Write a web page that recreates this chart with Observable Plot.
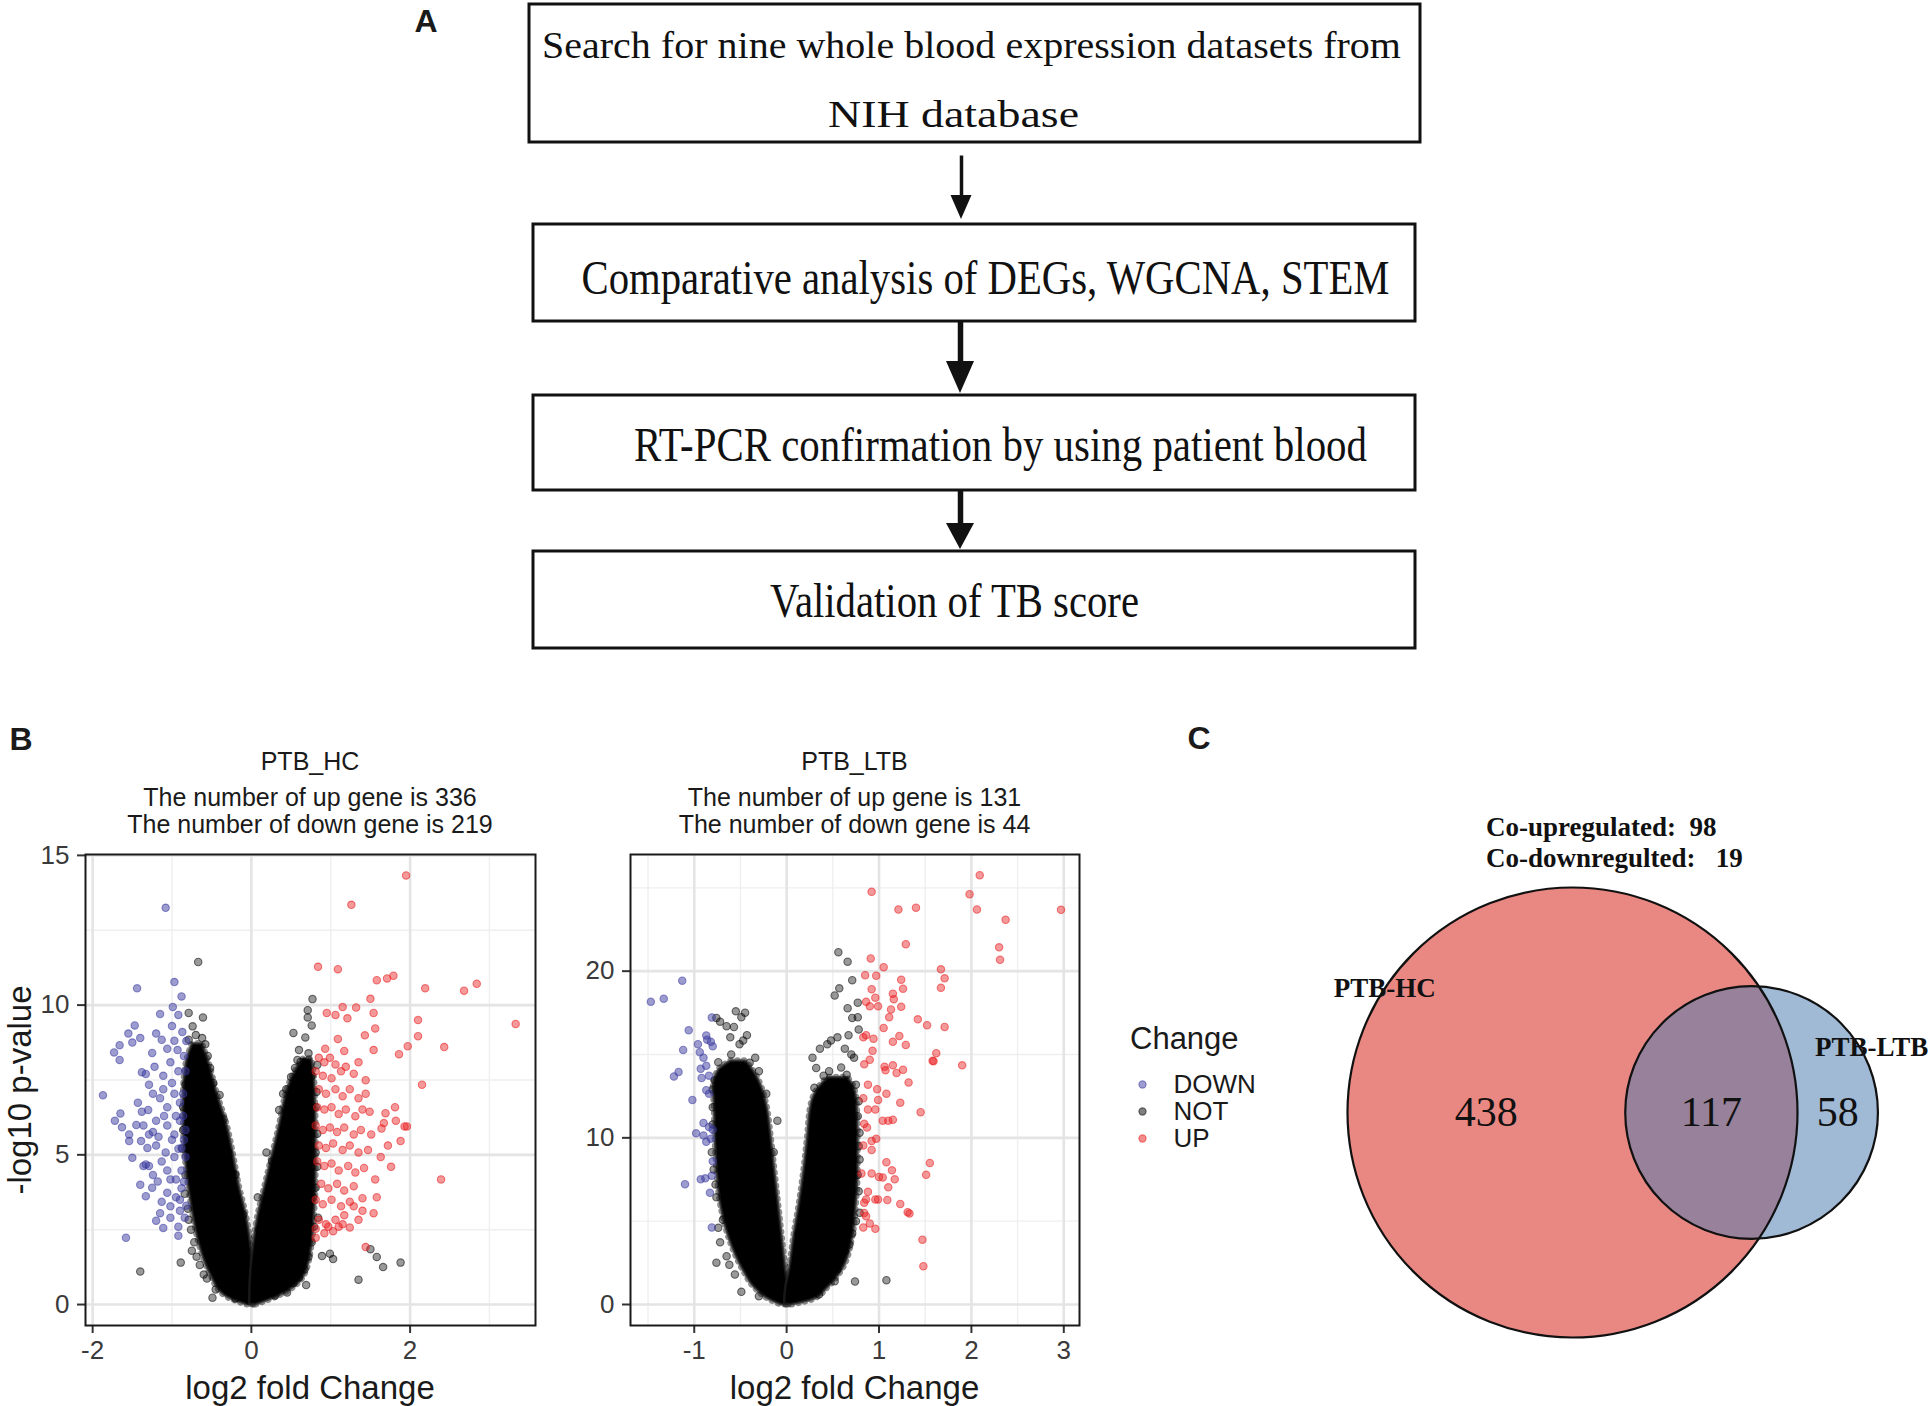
<!DOCTYPE html>
<html><head><meta charset="utf-8">
<script src="https://cdn.jsdelivr.net/npm/d3@7"></script>
<script src="https://cdn.jsdelivr.net/npm/@observablehq/plot@0.6"></script>
<style>
body{margin:0;background:#fff;}
#root{position:relative;width:1931px;height:1406px;overflow:hidden;background:#fff;font-family:"Liberation Sans",Arial,sans-serif;color:#1a1a1a;}
.abs{position:absolute;white-space:pre;line-height:1;}
#root svg{position:absolute;overflow:visible;}
</style></head><body><div id="root"></div>
<script>
// ---------------- DATA ----------------
// Panel A: flow chart steps
const flowSteps = [
  ["Search for nine whole blood expression datasets from", "NIH database"],
  ["Comparative analysis of DEGs, WGCNA, STEM"],
  ["RT-PCR confirmation by using patient blood"],
  ["Validation of TB score"]
];
// Panel B: volcano titles / counts
const volcanoNames = ["PTB_HC", "PTB_LTB"];
const upCounts = [336, 131];
const downCounts = [219, 44];
const changeCats = ["DOWN", "NOT", "UP"];
// PTB_HC: [log2FC, -log10 p]
const hcDown = [[-1.08,13.25],[-1.44,10.56],[-0.97,10.77],[-0.99,9.94],[-0.88,10.29],[-0.92,9.67],[-1.47,9.32],[-1.55,9.05],[-1.50,8.75],[-1.66,8.66],[-1.73,8.42],[-1.66,8.17],[-1.20,9.05],[-1.13,8.84],[-1.06,8.54],[-0.97,8.81],[-1.38,7.76],[-1.33,7.70],[-1.22,7.94],[-1.11,7.64],[-1.02,8.09],[-1.87,6.99],[-1.65,6.38],[-1.72,6.14],[-1.63,5.92],[-1.54,5.68],[-1.54,5.46],[-1.43,6.74],[-1.38,6.44],[-1.36,5.98],[-1.39,5.46],[-1.31,5.23],[-1.33,4.68],[-1.29,4.63],[-1.33,3.62],[-1.58,2.23],[-1.18,4.11],[-1.13,3.43],[-1.11,2.56],[-1.15,3.05],[-1.02,2.90],[-0.92,2.60],[-0.92,2.30],[-1.24,7.04],[-1.15,6.89],[-1.06,6.59],[-0.97,7.04],[-0.90,6.74],[-1.20,6.14],[-1.06,5.98],[-0.97,5.68],[-0.90,6.14],[-1.20,5.31],[-1.08,5.08],[-0.97,4.93],[-0.88,5.23],[-1.24,4.33],[-1.06,4.48],[-0.95,4.18],[-0.88,4.48],[-1.06,3.73],[-0.95,3.58],[-0.88,3.88],[-1.02,3.28],[-0.90,3.13],[-0.83,5.83],[-0.83,4.93],[-0.86,7.04],[-0.83,7.79],[-0.92,7.79],[-1.11,7.19],[-1.29,7.34],[-1.24,5.76],[-1.13,4.78],[-1.02,4.18],[-1.29,5.68],[-1.36,4.63],[-0.85,8.30],[-0.93,8.50],[-1.00,7.40],[-0.86,6.30],[-0.95,6.30],[-1.10,6.30],[-0.85,5.50],[-0.92,5.20],[-1.00,5.50],[-0.85,4.10],[-0.90,3.50],[-0.82,3.30],[-0.84,2.90],[-1.17,5.60],[-1.30,6.50],[-1.45,6.00],[-1.25,3.90],[-1.40,4.00],[-1.20,2.80],[-1.50,4.90],[-1.00,9.30],[-1.25,8.40],[-1.40,8.90],[-1.15,9.70],[-0.87,9.10],[-0.82,8.80]];
const hcUp = [[1.95,14.33],[1.26,13.35],[0.84,11.28],[1.09,11.20],[1.58,10.83],[1.71,10.89],[1.79,10.98],[2.19,10.56],[2.68,10.48],[2.84,10.71],[3.33,9.37],[1.50,10.21],[1.32,9.92],[1.15,9.94],[0.95,9.74],[1.06,9.67],[1.54,9.74],[1.21,9.56],[2.10,9.50],[1.56,9.22],[1.43,8.99],[2.10,8.96],[1.09,8.87],[1.97,8.63],[2.43,8.60],[1.86,8.36],[1.54,8.50],[0.93,8.54],[1.17,8.47],[2.15,7.34],[1.44,7.49],[1.69,6.39],[1.82,6.14],[1.93,5.95],[1.96,5.95],[1.64,5.88],[1.88,5.46],[1.51,5.68],[2.39,4.18],[1.76,4.60],[1.56,4.18],[1.40,3.55],[1.40,3.13],[1.24,2.57],[1.10,2.60],[0.97,2.60],[1.44,1.92],[0.81,2.23],[0.85,8.24],[0.92,8.09],[0.99,8.24],[1.06,8.02],[0.81,7.79],[0.90,7.64],[1.01,7.56],[1.13,7.79],[1.19,7.94],[1.29,7.71],[1.35,8.09],[0.85,7.19],[0.94,7.04],[1.06,7.19],[1.15,6.96],[1.24,7.19],[1.35,6.89],[1.44,7.04],[0.83,6.59],[0.92,6.51],[1.01,6.59],[1.10,6.36],[1.19,6.51],[1.31,6.29],[1.40,6.51],[1.49,6.44],[0.81,5.98],[0.90,5.83],[0.99,5.91],[1.08,5.76],[1.17,5.91],[1.29,5.68],[1.38,5.83],[0.85,5.31],[0.94,5.23],[1.03,5.38],[1.15,5.16],[1.24,5.31],[1.35,5.08],[1.47,5.16],[0.83,4.78],[0.92,4.63],[1.01,4.71],[1.10,4.48],[1.22,4.63],[1.31,4.41],[1.42,4.56],[0.88,4.03],[0.97,3.88],[1.08,4.03],[1.17,3.81],[1.29,3.95],[0.81,3.50],[0.90,3.35],[1.01,3.50],[1.13,3.28],[1.24,3.43],[0.85,2.83],[0.94,2.68],[1.06,2.83],[1.17,2.98],[0.81,2.53],[0.92,2.38],[1.03,2.45],[1.15,2.68],[1.35,2.83],[1.29,3.28],[1.54,3.05],[1.58,3.58],[1.63,4.93],[1.72,5.31],[1.67,6.06],[1.81,6.59]];
const hcNot = [[-0.67,11.44],[0.77,10.20],[0.71,9.83],[0.71,9.59],[0.76,9.32],[-0.79,9.74],[-0.61,9.59],[-0.74,9.29],[0.53,9.07],[0.68,8.92],[0.72,8.39],[0.58,8.17],[-1.40,1.10],[-0.89,1.40],[-0.49,0.23],[1.35,0.83],[1.50,1.85],[1.58,1.59],[1.66,1.25],[1.88,1.40],[0.89,1.62],[0.99,1.70],[1.03,1.52],[0.69,0.65],[0.19,5.08],[0.08,3.58],[-0.24,4.41],[-0.79,8.84],[-0.72,8.39],[-0.65,7.94],[-0.58,8.69],[-0.83,7.34],[-0.86,5.83],[-0.83,4.33],[-0.79,2.83],[-0.72,2.08],[-0.65,1.32],[-0.56,0.87],[-0.29,5.08],[-0.20,4.33],[0.40,7.04],[0.44,7.19],[0.67,8.09],[0.76,7.64],[0.81,6.59],[0.81,5.08],[0.78,3.58],[0.76,2.08],[0.67,1.17],[0.53,0.72],[0.26,4.78],[-0.70,9.00],[-0.62,8.90],[-0.55,8.30],[0.60,8.50],[0.50,7.60],[0.35,6.50],[-0.40,7.00],[-0.35,6.20],[-0.75,1.80],[-0.45,0.50],[0.45,0.40],[0.30,0.30],[-0.20,0.20],[0.84,2.90],[0.83,8.00],[-0.10,3.00],[0.10,2.50],[-0.86,6.60],[-0.87,5.20],[-0.84,3.70],[-0.80,3.20],[-0.76,2.50],[-0.69,1.60],[-0.60,1.00],[-0.52,7.90],[-0.48,7.40],[0.82,7.10],[0.83,5.70],[0.83,4.60],[0.81,3.90],[0.79,2.60],[0.72,1.60],[0.60,0.90],[0.62,8.10],[0.55,7.90]];
// dense core of NOT genes: [y, outer/inner x bounds]
const hcCoreLeft = [[0,-0.06,0.02],[0.3,-0.33,0.02],[1,-0.51,0.01],[2,-0.65,-0.01],[3,-0.73,-0.07],[4,-0.79,-0.16],[5,-0.83,-0.23],[6,-0.85,-0.31],[7,-0.85,-0.43],[8,-0.82,-0.53],[8.7,-0.74,-0.62]];
const hcCoreRight = [[0,-0.02,0.06],[0.3,-0.02,0.35],[1,-0.01,0.67],[2,0.03,0.76],[3,0.09,0.79],[4,0.18,0.81],[5,0.27,0.81],[6,0.36,0.81],[7,0.44,0.80],[7.6,0.52,0.79],[8.2,0.66,0.76]];
// PTB_LTB
const ltbDown = [[-1.13,19.43],[-1.47,18.16],[-1.33,18.35],[-0.81,17.22],[-1.06,16.46],[-0.87,16.14],[-0.86,15.89],[-0.96,15.62],[-0.82,15.76],[-1.12,15.27],[-0.94,15.14],[-0.80,15.49],[-0.90,14.81],[-0.87,14.32],[-0.93,14.14],[-1.17,13.95],[-1.22,13.68],[-0.84,13.73],[-0.92,13.59],[-0.87,12.86],[-0.84,12.65],[-1.02,12.27],[-0.90,10.89],[-0.84,10.65],[-0.80,10.49],[-0.98,10.27],[-0.90,10.14],[-0.82,9.95],[-0.87,9.76],[-0.80,8.59],[-0.93,7.51],[-0.88,7.57],[-0.81,7.73],[-1.10,7.22],[-0.83,6.70],[-0.81,4.62]];
const ltbUp = [[2.09,25.76],[0.92,24.76],[1.98,24.62],[1.21,23.70],[1.40,23.81],[2.06,23.70],[2.97,23.68],[2.37,23.08],[1.29,21.62],[2.30,21.43],[2.31,20.68],[0.91,20.76],[1.05,20.24],[1.67,20.11],[0.85,19.76],[0.97,19.73],[1.24,19.49],[1.71,19.57],[1.67,19.00],[0.92,18.92],[1.26,18.95],[1.15,18.65],[0.96,18.41],[1.16,18.32],[0.86,18.16],[0.90,17.89],[0.99,17.89],[1.24,17.86],[1.13,17.70],[1.11,17.24],[1.42,17.11],[1.52,16.76],[1.71,16.65],[1.05,16.59],[1.22,16.11],[0.86,16.16],[0.83,16.03],[0.94,15.95],[1.15,15.76],[1.29,15.57],[1.62,15.08],[1.58,14.62],[1.59,14.59],[0.93,15.22],[0.90,14.68],[0.84,14.41],[1.06,14.27],[1.15,14.35],[1.90,14.35],[1.26,14.08],[1.07,14.05],[1.19,13.89],[1.32,13.32],[0.88,13.19],[0.98,12.92],[1.08,12.65],[0.83,12.38],[1.23,12.11],[0.99,12.27],[0.88,11.70],[0.96,11.70],[1.45,11.54],[1.10,11.03],[1.04,11.03],[1.15,11.08],[0.84,10.84],[0.87,10.62],[0.97,9.95],[0.92,9.81],[0.83,9.54],[0.92,9.27],[1.08,8.54],[1.55,8.49],[1.14,8.05],[1.51,7.78],[0.81,7.86],[0.92,7.86],[1.00,7.65],[1.04,7.62],[1.17,7.51],[1.10,7.03],[0.88,6.76],[0.86,6.30],[0.96,6.30],[1.09,6.27],[0.99,6.30],[1.23,6.03],[1.31,5.54],[1.33,5.46],[0.84,6.11],[0.84,5.49],[0.86,5.30],[0.90,4.86],[0.83,4.62],[0.96,4.54],[1.47,3.89],[1.48,2.30]];
const ltbNot = [[0.56,21.14],[0.66,20.57],[0.71,19.46],[0.57,18.97],[0.52,18.54],[0.77,18.11],[0.66,17.78],[0.71,17.19],[0.77,17.24],[-0.55,17.59],[-0.45,17.51],[-0.49,17.24],[-0.76,17.19],[-0.65,16.70],[-0.57,16.65],[-0.47,15.84],[-0.76,2.51],[-0.62,2.38],[-0.49,0.76],[0.74,1.38],[1.08,1.46],[0.48,15.84],[0.55,16.03],[0.67,16.16],[0.32,14.19],[0.40,13.73],[0.46,14.00],[0.59,14.22],[0.65,13.78],[-0.72,16.97],[-0.61,16.03],[-0.51,15.62],[-0.43,16.16],[-0.34,14.81],[-0.30,14.00],[-0.74,14.54],[-0.78,13.46],[-0.80,11.84],[-0.81,9.14],[-0.76,6.43],[-0.72,3.73],[-0.69,5.08],[-0.14,9.14],[-0.10,11.03],[-0.22,12.65],[0.28,14.81],[0.36,15.35],[0.44,15.62],[0.63,15.35],[0.73,14.81],[0.75,13.19],[0.77,11.30],[0.77,7.78],[0.71,4.27],[0.63,3.19],[0.55,2.11],[0.13,4.27],[0.21,6.43],[0.78,16.50],[0.70,15.00],[0.60,12.50],[0.50,11.80],[0.78,9.50],[0.79,5.50],[0.30,13.00],[-0.60,15.00],[-0.40,14.50],[0.20,1.00],[-0.30,0.50],[-0.80,12.90],[-0.80,10.80],[-0.79,8.10],[-0.77,7.20],[-0.74,4.60],[-0.65,2.90],[-0.56,1.80],[0.78,12.20],[0.79,10.30],[0.79,8.70],[0.78,6.80],[0.75,5.00],[0.68,3.60],[0.52,1.40],[0.35,0.60]];
const ltbCoreLeft = [[0,-0.06,0.02],[0.3,-0.18,0.02],[1,-0.34,0.01],[2,-0.46,-0.01],[4,-0.62,-0.05],[6,-0.71,-0.09],[8,-0.75,-0.13],[10,-0.77,-0.17],[12,-0.78,-0.22],[13,-0.79,-0.27],[14,-0.74,-0.36],[14.6,-0.60,-0.45]];
const ltbCoreRight = [[0,-0.02,0.06],[0.3,-0.02,0.28],[1,-0.01,0.44],[2,0.03,0.59],[4,0.08,0.71],[6,0.14,0.75],[8,0.19,0.77],[10,0.23,0.77],[12,0.27,0.76],[13,0.35,0.73],[13.6,0.45,0.66]];
// Panel C: Venn counts
const vennSets = ["PTB-HC", "PTB-LTB"];
const vennOnly = [438, 58];
const vennShared = 117;
const coUp = 98, coDown = 19;

// ---------------- LAYOUT / STYLE ----------------
const root = document.getElementById("root");
function label(text, x, y, o = {}) {
  const d = document.createElement("div");
  d.className = "abs";
  d.textContent = text;
  d.style.left = x + "px"; d.style.top = y + "px";
  d.style.fontSize = (o.size || 25) + "px";
  d.style.fontWeight = o.weight || "normal";
  d.style.fontFamily = o.family || '"Liberation Sans", Arial, sans-serif';
  d.style.color = o.color || "#1a1a1a";
  const tx = o.anchor === "start" ? "0" : "-50%";
  d.style.transform = `translate(${tx},-50%)` + (o.rotate ? ` rotate(${o.rotate}deg)` : "");
  root.appendChild(d);
}
function place(svg, left, top) { svg.style.left = left + "px"; svg.style.top = top + "px"; root.appendChild(svg); }

const serif = '"Liberation Serif", "Times New Roman", serif';
const sans = '"Liberation Sans", Arial, sans-serif';

// ---------- Panel A ----------
const flowBoxes = [{x1:529,x2:1420,y1:4,y2:142},{x1:533,x2:1415,y1:224,y2:321},{x1:533,x2:1415,y1:395,y2:490},{x1:533,x2:1415,y1:551,y2:648}];
const flowTextPos = [[{x:971,y:46,size:37,len:859},{x:953,y:115,size:37,len:251}],[{x:985,y:278,size:49,len:808}],[{x:1000,y:445,size:49,len:733}],[{x:954,y:601,size:49,len:369}]];
const flowArrows = [{x:961,y1:155,y2:219,w:3.5,hw:21,hl:24},{x:960,y1:321,y2:393,w:5.5,hw:28,hl:32},{x:960,y1:490,y2:549,w:5.5,hw:28,hl:26}];
const flowTexts = flowSteps.flatMap((lines, i) => lines.map((t, j) => ({text: t, ...flowTextPos[i][j]})));
const heads = flowArrows.flatMap((a, i) => [
  {i, x: a.x - a.hw / 2, y1: a.y2 - a.hl, y2: a.y2 - a.hl},
  {i, x: a.x, y1: a.y2 - a.hl, y2: a.y2},
  {i, x: a.x + a.hw / 2, y1: a.y2 - a.hl, y2: a.y2 - a.hl}
]);
const flow = Plot.plot({
  width: 1931, height: 660, margin: 0,
  x: {domain: [0, 1931], range: [0, 1931], axis: null},
  y: {domain: [0, 660], range: [0, 660], axis: null},
  style: {background: "transparent"},
  marks: [
    Plot.rect(flowBoxes, {x1: "x1", x2: "x2", y1: "y1", y2: "y2", fill: "white", stroke: "#111", strokeWidth: 3}),
    Plot.link(flowArrows, {x1: "x", x2: "x", y1: "y1", y2: d => d.y2 - d.hl + 2, stroke: "#111", strokeWidth: d => d.w}),
    Plot.areaY(heads, {x: "x", y1: "y1", y2: "y2", z: "i", fill: "#111"}),
    Plot.text(flowTexts.filter(d => d.size === 37), {x: "x", y: "y", text: "text", fontSize: 37, fontFamily: serif, fill: "#111"}),
    Plot.text(flowTexts.filter(d => d.size === 49), {x: "x", y: "y", text: "text", fontSize: 49, fontFamily: serif, fill: "#111"})
  ]
});
d3.select(flow).selectAll("text").each(function () {
  const spec = flowTexts.find(f => f.text === this.textContent);
  if (spec) { this.setAttribute("textLength", spec.len); this.setAttribute("lengthAdjust", "spacingAndGlyphs"); }
});
place(flow, 0, 0);
label("A", 426, 21, {size: 32, weight: "bold"});

// ---------- Panel B ----------
const colors = {DOWN: "#3a3aa0", NOT: "#000000", UP: "#e81a1c"};
const fillOp = {DOWN: 0.5, NOT: 0.4, UP: 0.45};
function dots(data, cat) {
  return Plot.dot(data, {x: d => d[0], y: d => d[1], r: 3.7, fill: colors[cat], fillOpacity: fillOp[cat],
    stroke: colors[cat], strokeOpacity: 0.55, strokeWidth: 1.1});
}
const fmt = d => String(d);
function coreMarks(data) {
  const ch = {y: d => d[0], x1: d => d[1], x2: d => d[2], curve: "monotone-y"};
  return [
    Plot.areaX(data, {...ch, fill: "none", stroke: "#000", strokeOpacity: 0.45, strokeWidth: 7, strokeDasharray: "0.1 6.5", strokeLinecap: "round"}),
    Plot.areaX(data, {...ch, fill: "#000", stroke: "#222", strokeWidth: 2.5, strokeOpacity: 0.7})
  ];
}
function volcano(c) {
  const grid = {strokeOpacity: 1};
  return Plot.plot({
    width: 560, height: 530,
    marginLeft: 85, marginRight: c.marginRight, marginTop: 14, marginBottom: 45,
    x: {domain: c.xDomain, axis: null},
    y: {domain: c.yDomain, axis: null},
    style: {background: "transparent", fontFamily: sans, fontSize: "26px", color: "#3a3a3a"},
    marks: [
      Plot.gridX(c.xMinor, {...grid, stroke: "#efefef", strokeWidth: 1.4}),
      Plot.gridY(c.yMinor, {...grid, stroke: "#efefef", strokeWidth: 1.4}),
      Plot.gridX(c.xMajor, {...grid, stroke: "#e4e4e4", strokeWidth: 2.6}),
      Plot.gridY(c.yMajor, {...grid, stroke: "#e4e4e4", strokeWidth: 2.6}),
      ...coreMarks(c.coreLeft),
      ...coreMarks(c.coreRight),
      dots(c.not, "NOT"),
      dots(c.down, "DOWN"),
      dots(c.up, "UP"),
      Plot.axisX(c.xMajor, {tickSize: 8, tickPadding: 7, label: null, tickFormat: fmt, fontSize: 26, stroke: "#333", strokeWidth: 2, color: "#3a3a3a"}),
      Plot.axisY(c.yMajor, {tickSize: 8, tickPadding: 8, label: null, tickFormat: fmt, fontSize: 26, stroke: "#333", strokeWidth: 2, color: "#3a3a3a"}),
      Plot.frame({stroke: "#1a1a1a", strokeWidth: 2})
    ]
  });
}
const hcPlot = volcano({
  xDomain: [-2.09, 3.58], yDomain: [-0.70, 15.03],
  xMajor: [-2, 0, 2], xMinor: [-1, 1, 3], yMajor: [0, 5, 10, 15], yMinor: [2.5, 7.5, 12.5],
  coreLeft: hcCoreLeft, coreRight: hcCoreRight, not: hcNot, down: hcDown, up: hcUp, marginRight: 25
});
place(hcPlot, 0, 840);
const ltbPlot = volcano({
  xDomain: [-1.69, 3.17], yDomain: [-1.26, 27.0],
  xMajor: [-1, 0, 1, 2, 3], xMinor: [-1.5, -0.5, 0.5, 1.5, 2.5], yMajor: [0, 10, 20], yMinor: [5, 15, 25],
  coreLeft: ltbCoreLeft, coreRight: ltbCoreRight, not: ltbNot, down: ltbDown, up: ltbUp, marginRight: 26
});
place(ltbPlot, 545, 840);

label("B", 21, 739, {size: 32, weight: "bold"});
const titleX = [310, 854.5];
volcanoNames.forEach((n, i) => {
  label(n, titleX[i], 761, {size: 25});
  label(`The number of up gene is ${upCounts[i]}`, titleX[i], 797, {size: 25});
  label(`The number of down gene is ${downCounts[i]}`, titleX[i], 824, {size: 25});
  label("log2 fold Change", titleX[i], 1387, {size: 33});
});
label("-log10 p-value", 19, 1090, {size: 33, rotate: -90});

// legend
label("Change", 1130, 1038, {size: 31, anchor: "start"});
const legend = Plot.plot({
  width: 180, height: 100, margin: 0,
  x: {type: "identity", axis: null},
  y: {type: "point", domain: changeCats, range: [23, 78], padding: 0, axis: null},
  style: {background: "transparent", fontFamily: sans},
  marks: [
    Plot.dot(changeCats, {x: () => 22, y: d => d, r: 3.6, fill: d => colors[d], fillOpacity: 0.5, stroke: d => colors[d], strokeOpacity: 0.55, strokeWidth: 1.1}),
    Plot.text(changeCats, {x: () => 53, y: d => d, text: d => d, textAnchor: "start", fontSize: 26, fill: "#1a1a1a"})
  ]
});
place(legend, 1120, 1060);

// ---------- Panel C ----------
label("C", 1199, 738, {size: 32, weight: "bold"});
const nA = vennOnly[0] + vennShared, nB = vennOnly[1] + vennShared;
const RA = Math.sqrt(nA), RB = Math.sqrt(nB);
function lensArea(d, r1, r2) {
  if (d >= r1 + r2) return 0;
  if (d <= Math.abs(r1 - r2)) return Math.PI * Math.min(r1, r2) ** 2;
  const a = r2 * r2 * Math.acos((d * d + r2 * r2 - r1 * r1) / (2 * d * r2));
  const b = r1 * r1 * Math.acos((d * d + r1 * r1 - r2 * r2) / (2 * d * r1));
  const c = 0.5 * Math.sqrt((-d + r1 + r2) * (d + r1 - r2) * (d - r1 + r2) * (d + r1 + r2));
  return a + b - c;
}
let lo = Math.abs(RA - RB), hi = RA + RB;
for (let i = 0; i < 80; i++) { const m = (lo + hi) / 2; if (lensArea(m, RA, RB) > Math.PI * vennShared) lo = m; else hi = m; }
const dAB = (lo + hi) / 2;
const pxPerUnit = 225 / RA;
const vW = 731, vH = 600, cxPx = 372, cyPx = 332;
const lens = d3.range(0, 241).map(i => {
  const x = (dAB - RB) + (RA - (dAB - RB)) * i / 240;
  const h = Math.sqrt(Math.max(0, Math.min(RA * RA - x * x, RB * RB - (x - dAB) ** 2)));
  return {x, y1: -h, y2: h};
});
const regionLabels = [
  {t: String(vennOnly[0]), x: (-RA + dAB - RB) / 2},
  {t: String(vennShared), x: (dAB - RB + RA) / 2},
  {t: String(vennOnly[1]), x: (RA + dAB + RB) / 2}
];
const catSpec = [{angle: 146.6, dist: 0, cx: 0, r: RA}, {angle: 28.4, dist: 1.06, cx: dAB, r: RB}];
const catLabels = vennSets.map((s, i) => {
  const c = catSpec[i], a = c.angle * Math.PI / 180, rr = c.r + c.dist;
  return {t: s, x: c.cx + rr * Math.cos(a), y: rr * Math.sin(a)};
});
const circA = [{x: 0}], circB = [{x: dAB}];
const venn = Plot.plot({
  width: vW, height: vH, margin: 0,
  x: {domain: [-cxPx / pxPerUnit, (vW - cxPx) / pxPerUnit], range: [0, vW], axis: null},
  y: {domain: [-(vH - cyPx) / pxPerUnit, cyPx / pxPerUnit], range: [vH, 0], axis: null},
  style: {background: "transparent"},
  marks: [
    Plot.dot(circA, {x: "x", y: () => 0, r: RA * pxPerUnit, fill: "#e98883", stroke: "none"}),
    Plot.dot(circB, {x: "x", y: () => 0, r: RB * pxPerUnit, fill: "#a0b9d4", stroke: "none"}),
    Plot.areaY(lens, {x: "x", y1: "y1", y2: "y2", fill: "#98829b"}),
    Plot.dot(circA, {x: "x", y: () => 0, r: RA * pxPerUnit, fill: "none", stroke: "#111", strokeWidth: 2.2}),
    Plot.dot(circB, {x: "x", y: () => 0, r: RB * pxPerUnit, fill: "none", stroke: "#111", strokeWidth: 2.2}),
    Plot.text(regionLabels, {x: "x", y: () => 0, text: "t", fontSize: 42, fontFamily: serif, fill: "#111"}),
    Plot.text(catLabels, {x: "x", y: "y", text: "t", fontSize: 27, fontWeight: "bold", fontFamily: serif, fill: "#111"})
  ]
});
place(venn, 1200, 780);
label(`Co-upregulated:  ${coUp}`, 1486, 827, {size: 27, weight: "bold", family: serif, anchor: "start", color: "#111"});
label(`Co-downregulted:   ${coDown}`, 1486, 858, {size: 27, weight: "bold", family: serif, anchor: "start", color: "#111"});
</script></body></html>
